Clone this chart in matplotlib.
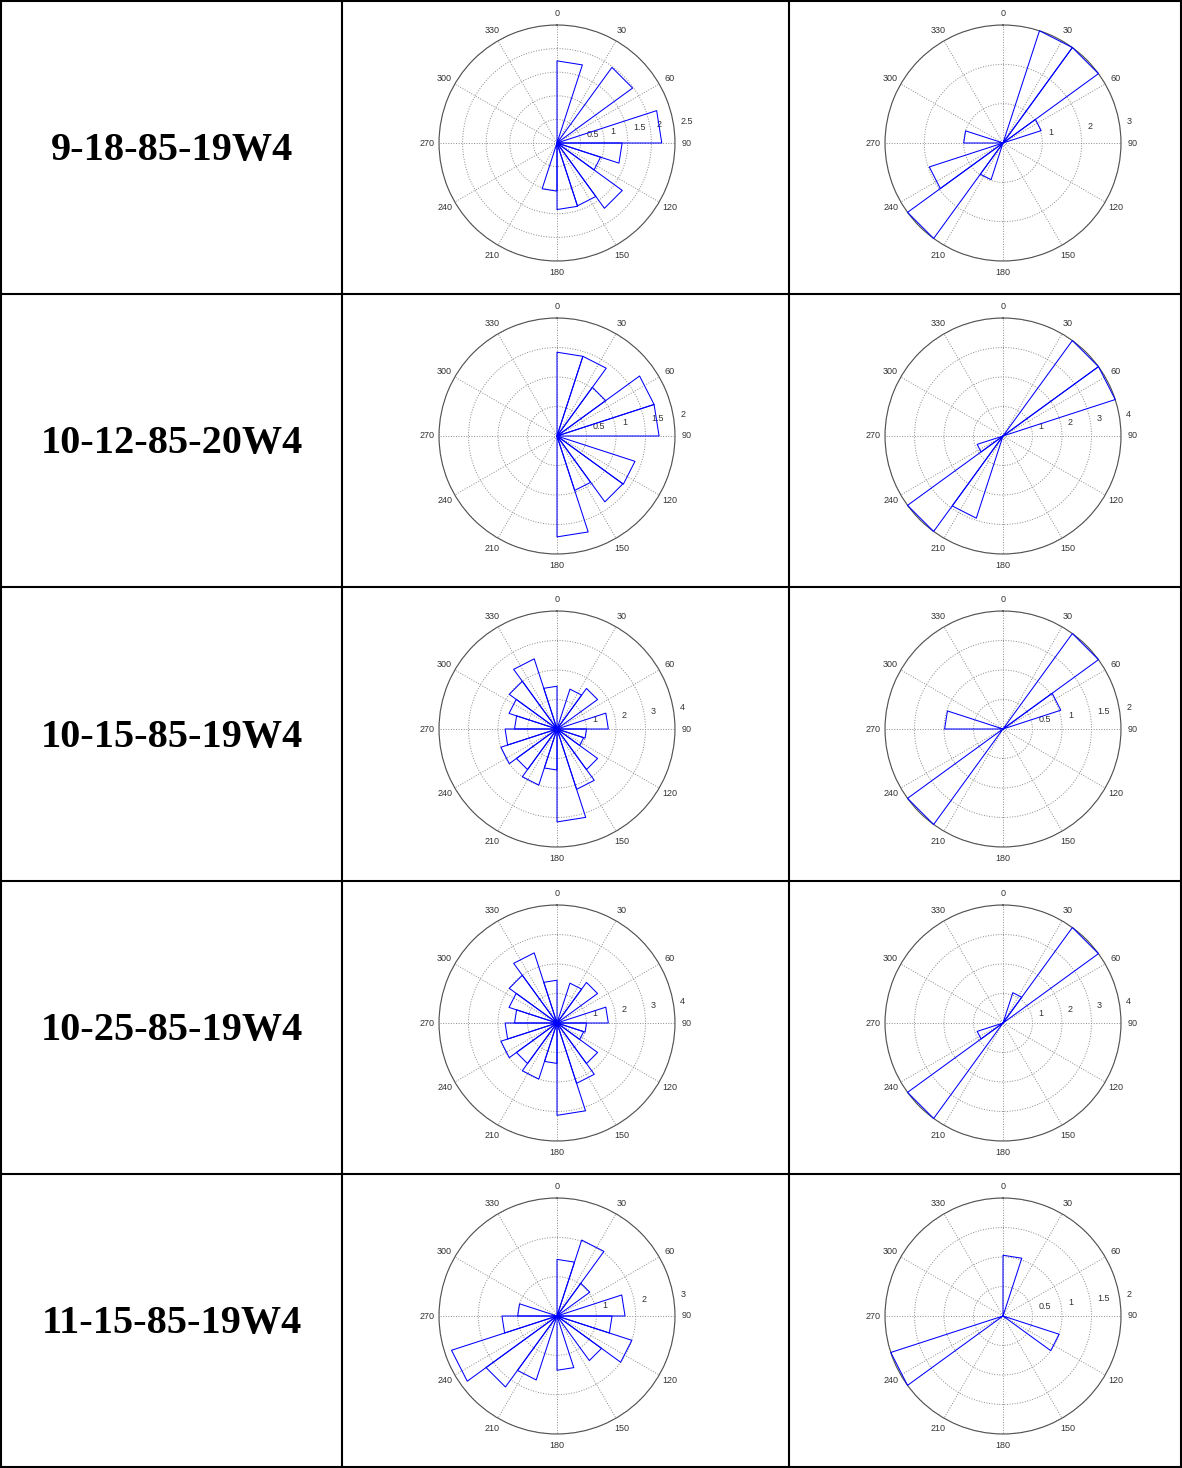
import matplotlib
import numpy as np

matplotlib.use("Agg")
import matplotlib.pyplot as plt  # noqa: E402

# 表の中にローズダイアグラム（20ビン, 18度刻み）を並べた図を再現する。

W, H = 1182, 1468
DPI = 100

well_labels = [
    "9-18-85-19W4",
    "10-12-85-20W4",
    "10-15-85-19W4",
    "10-25-85-19W4",
    "11-15-85-19W4",
]

# 各ビン [0-18, 18-36, ..., 342-360] の値（北から時計回り）
rose_9_18_left = [1.74, 0, 1.98, 0, 2.22, 1.38, 0.97, 1.71, 1.40, 1.41,
                  1.02, 0, 0, 0, 0, 0, 0, 0, 0, 0]
rose_9_18_right = [0, 3.0, 3.0, 1.02, 0, 0, 0, 0, 0, 0,
                   0, 0.98, 3.0, 1.97, 0, 1.0, 0, 0, 0, 0]
rose_10_12_left = [1.42, 1.42, 1.02, 1.73, 1.73, 0, 1.39, 1.38, 0.97, 1.71,
                   0, 0, 0, 0, 0, 0, 0, 0, 0, 0]
rose_10_12_right = [0, 0, 4.0, 4.0, 0, 0, 0, 0, 0, 0,
                    0, 2.93, 4.0, 0.92, 0, 0, 0, 0, 0, 0]
rose_10_15_left = [0, 1.42, 1.70, 0, 1.74, 1.0, 0.95, 1.70, 2.15, 3.15,
                   1.39, 2.0, 1.70, 2.0, 1.76, 1.44, 1.71, 2.0, 2.5, 1.45]
rose_10_15_right = [0, 0, 2.0, 1.03, 0, 0, 0, 0, 0, 0,
                    0, 0, 2.0, 0, 0, 0.99, 0, 0, 0, 0]
rose_10_25_left = [0, 1.42, 1.70, 0, 1.74, 1.0, 0.95, 1.70, 2.15, 3.13,
                   1.37, 2.0, 1.70, 2.0, 1.76, 1.44, 1.71, 2.0, 2.5, 1.45]
rose_10_25_right = [0, 1.08, 4.0, 0, 0, 0, 0, 0, 0, 0,
                    0, 0, 4.0, 0.92, 0, 0, 0, 0, 0, 0]
rose_11_15_left = [1.44, 2.03, 1.03, 0, 1.73, 1.40, 2.0, 1.40, 0, 1.38,
                   0, 1.71, 2.23, 2.82, 1.40, 1.0, 0, 0, 0, 0]
rose_11_15_right = [1.03, 0, 0, 0, 0, 0, 1.0, 0, 0, 0,
                    0, 0, 0, 2.0, 0, 0, 0, 0, 0, 0]

left_roses = [rose_9_18_left, rose_10_12_left, rose_10_15_left,
              rose_10_25_left, rose_11_15_left]
right_roses = [rose_9_18_right, rose_10_12_right, rose_10_15_right,
               rose_10_25_right, rose_11_15_right]

# 各ローズの外周半径（軸の最大値）
rmax_left = [2.5, 2, 4, 4, 3]
rmax_right = [3, 4, 2, 4, 2]

angle_labels = list(range(0, 360, 30))

# 表の罫線位置（ピクセル）
col_x = [1, 342, 789, 1181]
row_y = [1, 294, 587, 881, 1174, 1467]
rose_cx = [557.0, 1003.0]
R_PX = 118

BIN = 18
edges = np.arange(0, 360, BIN)


def draw_rose(fig, cx, cy, values, rmax):
    """MATLAB の rose + polar 風の図を1つ描く。"""
    ax = fig.add_axes([
        (cx - R_PX) / W,
        1 - (cy + R_PX) / H,
        2 * R_PX / W,
        2 * R_PX / H,
    ], projection="polar")
    ax.set_theta_zero_location("N")
    ax.set_theta_direction(-1)
    step = 0.5 if rmax <= 2.5 else 1
    rings = np.arange(step, rmax + step / 2, step)
    ax.set_rlim(0, rmax)
    ax.set_rticks(rings)
    ax.set_yticklabels([])
    ax.set_xticks(np.deg2rad(angle_labels))
    ax.set_xticklabels([])
    ax.tick_params(length=0)
    ax.grid(True, color="#8a8a8a", linestyle=":", linewidth=0.7)
    ax.spines["polar"].set_color("#505050")
    ax.spines["polar"].set_linewidth(0.8)

    for a in angle_labels:
        ax.text(np.deg2rad(a), 1.1 * rmax, str(a), ha="center", va="center",
                fontsize=6.5, color="#333333", family="Liberation Sans")
    for v in rings:
        ax.text(np.deg2rad(82), v + 0.055 * rmax, f"{v:g}", ha="left",
                va="bottom", fontsize=6.5, color="#333333",
                family="Liberation Sans")

    for start, v in zip(edges, values):
        if v <= 0:
            continue
        a = np.deg2rad(start)
        b = np.deg2rad(start + BIN)
        ax.plot([0, a, b, 0], [0, v, v, 0], color="#0000ff", linewidth=0.75,
                clip_on=False, zorder=3)
    return ax


fig = plt.figure(figsize=(W / DPI, H / DPI), dpi=DPI)
fig.patch.set_facecolor("white")

bg = fig.add_axes([0, 0, 1, 1])
bg.set_xlim(0, W)
bg.set_ylim(H, 0)
bg.axis("off")
for x in col_x:
    bg.plot([x, x], [row_y[0], row_y[-1]], color="black", linewidth=1.5,
            solid_capstyle="projecting")
for y in row_y:
    bg.plot([col_x[0], col_x[-1]], [y, y], color="black", linewidth=1.5,
            solid_capstyle="projecting")

for i, label in enumerate(well_labels):
    top = row_y[i]
    mid = (row_y[i] + row_y[i + 1]) / 2 + 3
    bg.text((col_x[0] + col_x[1]) / 2, mid, label, ha="center", va="center",
            fontsize=29, fontweight="bold", family="Liberation Serif")
    cy = top + 142
    draw_rose(fig, rose_cx[0], cy, left_roses[i], rmax_left[i])
    draw_rose(fig, rose_cx[1], cy, right_roses[i], rmax_right[i])

fig.savefig("out.png", dpi=DPI)
plt.close(fig)
